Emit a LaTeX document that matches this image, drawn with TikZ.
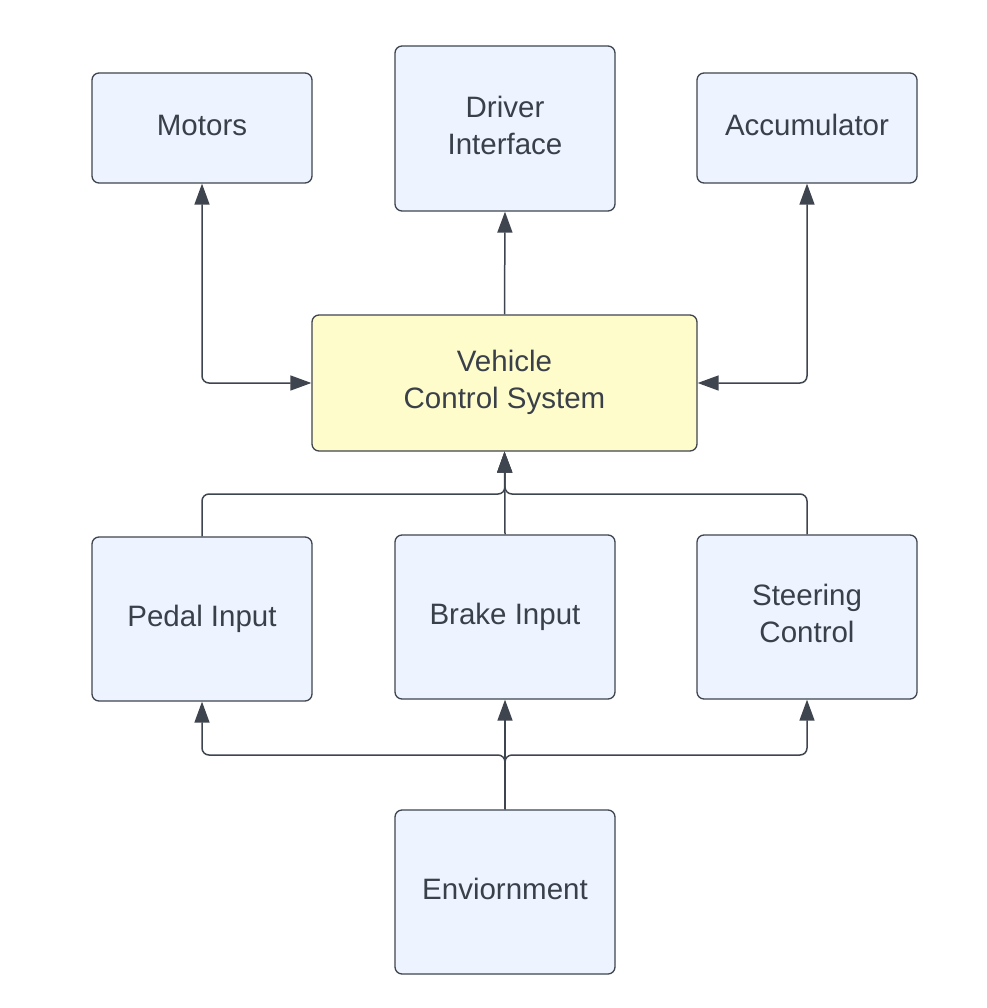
\documentclass[tikz,border=0pt]{standalone}
\usepackage{fontspec}
\setmainfont{Liberation Sans}
\usetikzlibrary{arrows.meta}
\definecolor{boxfill}{HTML}{EDF4FF}
\definecolor{yelfill}{HTML}{FFFCCC}
\definecolor{edge}{HTML}{3F454E}
\definecolor{txt}{HTML}{3A4049}
\newcommand{\lbl}[2][3.5pt]{\raisebox{#1}{\setlength{\tabcolsep}{0pt}\begin{tabular}{c}#2\end{tabular}}}
\tikzset{
  blk/.style={draw=edge, line width=1.3pt, rounded corners=7pt, fill=boxfill,
    text=txt, inner sep=0pt,
    font=\fontsize{29.5}{37}\selectfont},
  tip/.style={Triangle[length=21pt,width=15pt]},
  conn/.style={draw=edge, line width=1.5pt, rounded corners=7pt, -{Triangle[length=21pt,width=15pt]}},
  bconn/.style={conn, {Triangle[length=21pt,width=15pt]}-{Triangle[length=21pt,width=15pt]}}
}
\begin{document}
\begin{tikzpicture}[x=1pt,y=-1pt]
\useasboundingbox (0,0) rectangle (986,1008);
\fill[white] (0,0) rectangle (986,1008);
\node[blk, minimum width=220pt, minimum height=110pt] (mot) at (202,128) {\lbl[1.5pt]{Motors}};
\node[blk, minimum width=220pt, minimum height=165pt] (drv) at (505,128.5) {\lbl{Driver\\Interface}};
\node[blk, minimum width=220pt, minimum height=110pt] (acc) at (807,128) {\lbl[1.5pt]{Accumulator}};
\node[blk, fill=yelfill, minimum width=385pt, minimum height=136pt] (vcs) at (504.5,383) {\lbl[0pt]{Vehicle\\Control System}};
\node[blk, minimum width=220pt, minimum height=164pt] (ped) at (202,619) {\lbl{Pedal Input}};
\node[blk, minimum width=220pt, minimum height=164pt] (brk) at (505,617) {\lbl{Brake Input}};
\node[blk, minimum width=220pt, minimum height=164pt] (str) at (807,617) {\lbl{Steering\\Control}};
\node[blk, minimum width=220pt, minimum height=164pt] (env) at (505,892) {\lbl[2.5pt]{Enviornment}};
\coordinate (j1) at (505,494);
\coordinate (j2) at (505,755);
\draw[bconn] (mot.south) |- (vcs.west);
\draw[bconn] (acc.south) |- (vcs.east);
\draw[conn] (vcs.north) -- (drv.south);
\draw[conn] (ped.north) |- (j1) -- (vcs.south);
\draw[conn] (str.north) |- (j1) -- (vcs.south);
\draw[conn] (brk.north) -- (vcs.south);
\draw[conn] (env.north) -- (j2) -| (ped.south);
\draw[conn] (env.north) -- (j2) -| (str.south);
\draw[conn] (env.north) -- (brk.south);
\end{tikzpicture}
\end{document}
